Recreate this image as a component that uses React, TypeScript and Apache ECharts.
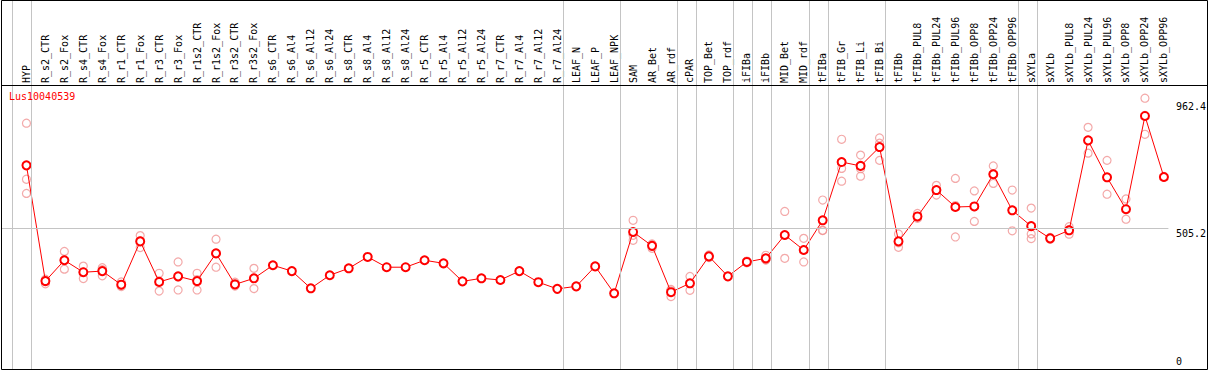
import React, { useEffect, useRef } from "react";
import * as echarts from "echarts";

const GENE = "Lus10040539";

const CATEGORIES = [
  "HYP", "R_s2_CTR", "R_s2_Fox", "R_s4_CTR", "R_s4_Fox", "R_r1_CTR", "R_r1_Fox",
  "R_r3_CTR", "R_r3_Fox", "R_r1s2_CTR", "R_r1s2_Fox", "R_r3s2_CTR", "R_r3s2_Fox",
  "R_s6_CTR", "R_s6_Al4", "R_s6_Al12", "R_s6_Al24", "R_s8_CTR", "R_s8_Al4", "R_s8_Al12",
  "R_s8_Al24", "R_r5_CTR", "R_r5_Al4", "R_r5_Al12", "R_r5_Al24", "R_r7_CTR", "R_r7_Al4",
  "R_r7_Al12", "R_r7_Al24", "LEAF_N", "LEAF_P", "LEAF_NPK", "SAM", "AR_Bet", "AR_rdf",
  "cPAR", "TOP_Bet", "TOP_rdf", "iFIBa", "iFIBb", "MID_Bet", "MID_rdf", "tFIBa",
  "tFIB_Gr", "tFIB_Li", "tFIB_Bi", "tFIBb", "tFIBb_PUL8", "tFIBb_PUL24", "tFIBb_PUL96",
  "tFIBb_OPP8", "tFIBb_OPP24", "tFIBb_OPP96", "sXYLa", "sXYLb", "sXYLb_PUL8",
  "sXYLb_PUL24", "sXYLb_PUL96", "sXYLb_OPP8", "sXYLb_OPP24", "sXYLb_OPP96",
];

const MEANS = [
  732, 315, 390, 347, 351, 302, 458, 312, 332, 315, 415, 303, 325,
  372, 351, 289, 336, 361, 402, 365, 365, 390, 379, 314, 325, 319, 351, 311, 287,
  296, 368, 271, 492, 442, 275, 307, 404, 332, 384, 397, 481, 427, 534,
  744, 730, 798, 458, 548, 643, 582, 584, 700, 570, 513, 469, 498, 822, 689, 574, 910, 690,
];

const REPLICATES: number[][] = [
  [884, 682, 631], [318, 305, 322], [422, 390, 358], [369, 348, 324], [363, 356, 334],
  [312, 300, 295], [479, 460, 436], [343, 313, 279], [384, 330, 283], [343, 320, 283],
  [466, 415, 365], [311, 302, 297], [361, 326, 288],
  [], [], [], [], [], [], [], [], [], [], [], [], [], [], [], [],
  [], [], [],
  [534, 480, 462], [449, 445, 433], [285, 280, 259], [332, 307, 282], [409, 403, 400],
  [], [387, 384, 381], [408, 392, 391], [566, 480, 397], [469, 427, 384], [607, 498, 497],
  [826, 721, 675], [769, 720, 693], [831, 812, 750], [485, 453, 437], [559, 545, 541],
  [660, 643, 625], [685, 587, 474], [640, 583, 530], [730, 702, 667], [643, 571, 496],
  [578, 485, 468], [472, 468, 466], [511, 500, 484], [869, 822, 776], [750, 689, 628],
  [611, 574, 538], [974, 912, 844], [692, 689],
];

// index (0-based) of the last category of each group; -1 = left edge
const GROUP_ENDS = [-1, 0, 28, 31, 34, 35, 37, 38, 39, 41, 42, 45, 52, 53, 60];

const Y_TICKS = [0, 505.2, 962.4];
const REF_LINE = 505.2;

// layout constants
const X_MIN = -1.316;
const X_MAX = 60.237;
const Y_MAX = 1018;
const SEP_OFFSET = 0.237;

const FONT = "'DejaVu Sans Mono', 'Liberation Mono', monospace";

export default function App() {
  const ref = useRef<HTMLDivElement>(null);

  useEffect(() => {
    document.body.style.margin = "0";
    if (!ref.current) return;
    const chart = echarts.init(ref.current, null, { renderer: "svg" });
    const repData: number[][] = [];
    REPLICATES.forEach((reps, i) => reps.forEach((v) => repData.push([i, v])));

    chart.setOption({
      animation: false,
      title: {
        text: GENE,
        left: 9,
        top: 91,
        padding: 0,
        textStyle: { color: "#ff0000", fontSize: 10, fontWeight: "normal", fontFamily: FONT },
      },
      grid: [
        { left: 1.5, right: 38.5, top: 86, bottom: 1.5 },
        { left: 1.5, right: 38.5, top: 0.5, bottom: 1 },
      ],
      xAxis: [
        {
          gridIndex: 0,
          type: "value",
          position: "top",
          min: X_MIN,
          max: X_MAX,
          axisLine: { show: false },
          axisTick: { show: false },
          splitLine: { show: false },
          axisLabel: {
            customValues: CATEGORIES.map((_, i) => i),
            formatter: (v: number) => CATEGORIES[Math.round(v)] ?? "",
            rotate: 90,
            margin: 3,
            fontSize: 10,
            fontFamily: FONT,
            color: "#000",
          },
        },
        { gridIndex: 1, type: "value", min: X_MIN, max: X_MAX, show: false },
      ],
      yAxis: [
        {
          gridIndex: 0,
          type: "value",
          position: "right",
          min: 0,
          max: Y_MAX,
          axisLine: { show: false },
          axisTick: { show: false },
          splitLine: { show: false },
          axisLabel: {
            customValues: Y_TICKS,
            margin: 7.5,
            fontSize: 10,
            fontFamily: FONT,
            color: "#000",
            verticalAlign: "middle",
            formatter: (v: number) => (v === 0 ? "{z|0}" : `{t|${v}}`),
            rich: {
              z: { padding: [0, 0, 14, 0], fontSize: 10, fontFamily: FONT, color: "#000" },
              t: { padding: [10, 0, 0, 0], fontSize: 10, fontFamily: FONT, color: "#000" },
            },
          },
        },
        { gridIndex: 1, type: "value", min: 0, max: 1, show: false },
      ],
      series: [
        {
          type: "line",
          xAxisIndex: 1,
          yAxisIndex: 1,
          data: [],
          silent: true,
          z: 1,
          markLine: {
            silent: true,
            symbol: "none",
            label: { show: false },
            lineStyle: { color: "#c4c4c4", width: 1, type: "solid" },
            data: GROUP_ENDS.map((g) => ({ xAxis: g + SEP_OFFSET })),
          },
        },
        {
          type: "line",
          data: [],
          silent: true,
          z: 1,
          markLine: {
            silent: true,
            symbol: "none",
            label: { show: false },
            lineStyle: { color: "#c4c4c4", width: 1, type: "solid" },
            data: [{ yAxis: REF_LINE }],
          },
        },
        {
          type: "scatter",
          data: repData,
          symbol: "circle",
          symbolSize: 8,
          itemStyle: { color: "none", borderColor: "#f09494", borderWidth: 1.2 },
          z: 3,
        },
        {
          type: "line",
          data: MEANS.map((v, i) => [i, v]),
          symbol: "emptyCircle",
          symbolSize: 8,
          lineStyle: { color: "#ff0000", width: 1 },
          itemStyle: { color: "#ff0000", borderWidth: 1.5 },
          z: 4,
        },
      ],
      graphic: [
        {
          type: "rect",
          shape: { x: 1.5, y: 0.5, width: 1206, height: 369 },
          style: { fill: "none", stroke: "#000", lineWidth: 1 },
          z: 10,
        },
        {
          type: "line",
          shape: { x1: 1.5, y1: 85.5, x2: 1207.5, y2: 85.5 },
          style: { stroke: "#000", lineWidth: 1 },
          z: 10,
        },
      ],
    });
    return () => chart.dispose();
  }, []);

  return <div ref={ref} style={{ width: 1209, height: 370 }} />;
}
